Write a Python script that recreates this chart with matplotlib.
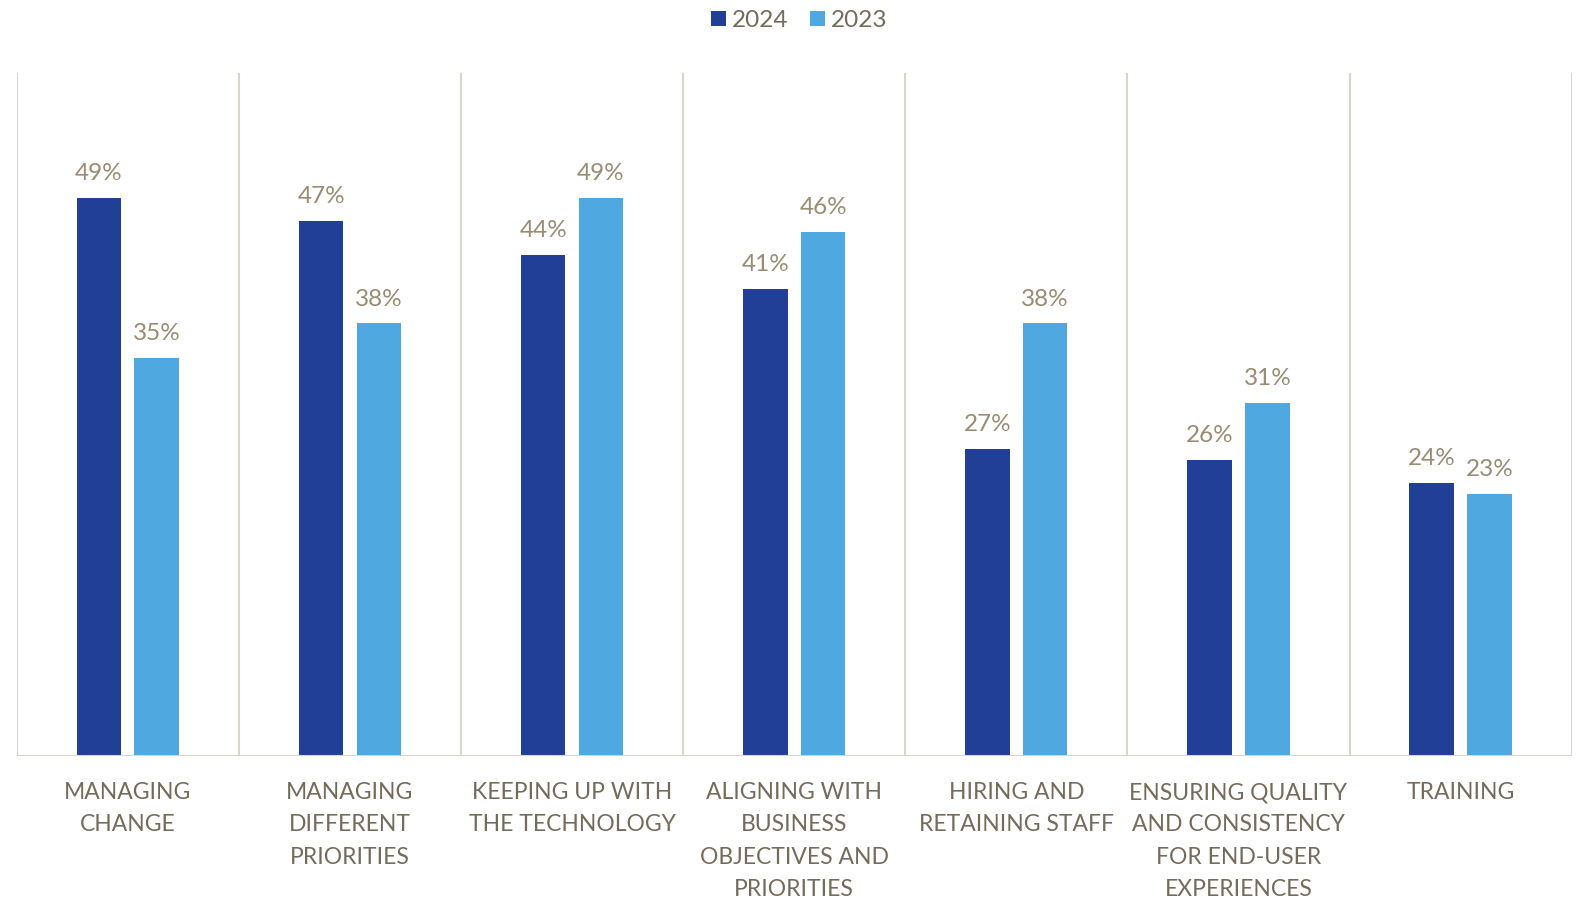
import matplotlib
matplotlib.use("Agg")
import matplotlib.pyplot as plt
from matplotlib.patches import Patch
import numpy as np

categories = [
    "MANAGING\nCHANGE",
    "MANAGING\nDIFFERENT\nPRIORITIES",
    "KEEPING UP WITH\nTHE TECHNOLOGY",
    "ALIGNING WITH\nBUSINESS\nOBJECTIVES AND\nPRIORITIES",
    "HIRING AND\nRETAINING STAFF",
    "ENSURING QUALITY\nAND CONSISTENCY\nFOR END-USER\nEXPERIENCES",
    "TRAINING",
]
values_2024 = [49, 47, 44, 41, 27, 26, 24]
values_2023 = [35, 38, 49, 46, 38, 31, 23]
series_names = ["2024", "2023"]

color_2024 = "#223F97"
color_2023 = "#4FA8DF"
label_color = "#756B5A"
value_color = "#9A8B73"
grid_color = "#D9D5CC"
font = "Lato"

plt.rcParams["font.family"] = [font, "DejaVu Sans"]

fig = plt.figure(figsize=(15.8, 8.98), dpi=100)
ax = fig.add_axes([0.0106, 0.1581, 0.9841, 0.7606])

x = np.arange(len(categories))
w = 0.2
off = 0.13
b1 = ax.bar(x - off, values_2024, w, color=color_2024, zorder=3)
b2 = ax.bar(x + off, values_2023, w, color=color_2023, zorder=3)

for bars, vals in ((b1, values_2024), (b2, values_2023)):
    for rect, v in zip(bars, vals):
        ax.annotate(f"{v}%", (rect.get_x() + rect.get_width() / 2, v),
                    xytext=(0, 10), textcoords="offset points",
                    ha="center", va="bottom", fontsize=17.5, color=value_color)

ax.set_xlim(-0.5, len(categories) - 0.5)
ax.set_ylim(0, 60)

# category separators
for b in np.arange(-0.5, len(categories), 1.0):
    ax.axvline(b, color=grid_color, lw=1.5, zorder=1)

for s in ax.spines.values():
    s.set_visible(False)
ax.axhline(0, color=grid_color, lw=1.5, zorder=4)
ax.set_yticks([])
ax.set_xticks(x)
ax.set_xticklabels(categories, fontsize=16.5, color=label_color, linespacing=1.65)
ax.tick_params(axis="x", length=0, pad=19)

handles = [Patch(facecolor=color_2024), Patch(facecolor=color_2023)]
fig.legend(handles, series_names, loc="upper center", bbox_to_anchor=(0.506, 1.013),
           ncol=2, frameon=False, fontsize=17.5, labelcolor=label_color,
           handlelength=0.6, handleheight=0.6, handletextpad=0.25, columnspacing=0.9)

fig.savefig("out.png", dpi=100)
